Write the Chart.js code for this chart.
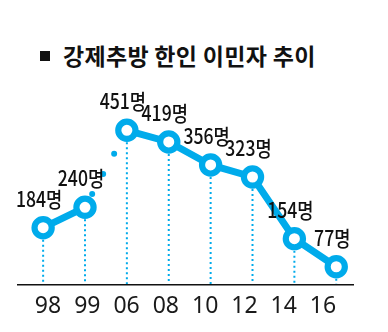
<!DOCTYPE html>
<html>
<head>
<meta charset="utf-8">
<script src="https://cdn.jsdelivr.net/npm/chart.js@4"></script>
<style>
  html, body { margin: 0; padding: 0; background: #fff; }
  #wrap { position: relative; width: 388px; height: 332px; }
  #title {
    position: absolute; left: 40px; top: 38px;
    font: bold 23px "Noto Sans CJK KR", sans-serif; color: #111;
    letter-spacing: 0.3px; white-space: nowrap;
  }
  #title .sq { display: inline-block; width: 10px; height: 10px; background: #111; margin-right: 13px; vertical-align: 4px; }
  canvas { position: absolute; left: 0; top: 0; }
</style>
</head>
<body>
<div id="wrap">
  <div id="title"><span class="sq"></span>강제추방 한인 이민자 추이</div>
  <canvas id="deport" width="388" height="332"></canvas>
</div>
<script>
const years = ['98', '99', '06', '08', '10', '12', '14', '16'];
const deported = [184, 240, 451, 419, 356, 323, 154, 77];
const unit = '명';

const blue = '#00abeb';

// dotted drop lines from each point to the baseline, plus value labels
const dropsAndLabels = {
  id: 'dropsAndLabels',
  beforeDatasetsDraw(chart) {
    const { ctx, chartArea } = chart;
    const meta = chart.getDatasetMeta(0);
    ctx.save();
    ctx.strokeStyle = blue;
    ctx.lineWidth = 2;
    ctx.setLineDash([2, 3]);
    meta.data.forEach(pt => {
      ctx.beginPath();
      ctx.moveTo(pt.x, pt.y + 12);
      ctx.lineTo(pt.x, chartArea.bottom - 1);
      ctx.stroke();
    });
    ctx.restore();
  },
  afterDatasetsDraw(chart) {
    const { ctx } = chart;
    const meta = chart.getDatasetMeta(0);
    ctx.save();
    ctx.fillStyle = '#111';
    ctx.font = '500 21px "Noto Sans CJK KR", sans-serif';
    ctx.textAlign = 'center';
    ctx.textBaseline = 'middle';
    meta.data.forEach((pt, i) => {
      ctx.save();
      ctx.translate(pt.x - 4, pt.y - 29);
      ctx.scale(0.84, 1);
      ctx.fillText(deported[i] + unit, 0, 0);
      ctx.restore();
    });
    ctx.restore();
  }
};

const chart = new Chart(document.getElementById('deport'), {
  type: 'line',
  data: {
    datasets: [{
      // points sit on a linear x scale at their index
      data: deported.map((v, i) => ({ x: i, y: v })),
      borderColor: blue,
      borderWidth: 7,
      tension: 0,
      pointRadius: 8.6,
      pointHoverRadius: 8.6,
      pointBorderWidth: 6.2,
      pointBackgroundColor: '#fff',
      pointBorderColor: blue,
      segment: {
        // 99 -> 06 gap is drawn as a broken dotted link
        borderDash: c => c.p0DataIndex === 1 ? [0, 23] : undefined,
        borderDashOffset: c => c.p0DataIndex === 1 ? 8 : 0,
        borderWidth: c => c.p0DataIndex === 1 ? 6 : undefined,
        borderCapStyle: c => c.p0DataIndex === 1 ? 'round' : 'butt'
      }
    }]
  },
  options: {
    responsive: false,
    animation: false,
    events: [],
    layout: { padding: { left: 18, right: 35, top: 100, bottom: 0 } },
    plugins: { legend: { display: false }, tooltip: { enabled: false } },
    scales: {
      x: {
        type: 'linear',
        min: -0.6,
        max: 7.4,
        display: false
      },
      yr: {
        type: 'linear',
        position: 'bottom',
        min: -0.764,
        max: 7.764,
        afterBuildTicks: axis => { axis.ticks = years.map((y, i) => ({ value: i })); },
        afterFit: axis => { axis.height = 47; },
        grid: { display: false, drawTicks: false },
        border: { display: true, color: '#111', width: 1.5 },
        ticks: {
          padding: 8,
          autoSkip: false,
          maxRotation: 0,
          color: '#1a1a1a',
          font: { family: '"Noto Sans", sans-serif', size: 23 },
          callback: v => years[v]
        }
      },
      y: {
        min: 27,
        max: 534,
        display: false
      }
    }
  },
  plugins: [dropsAndLabels]
});
</script>
</body>
</html>
